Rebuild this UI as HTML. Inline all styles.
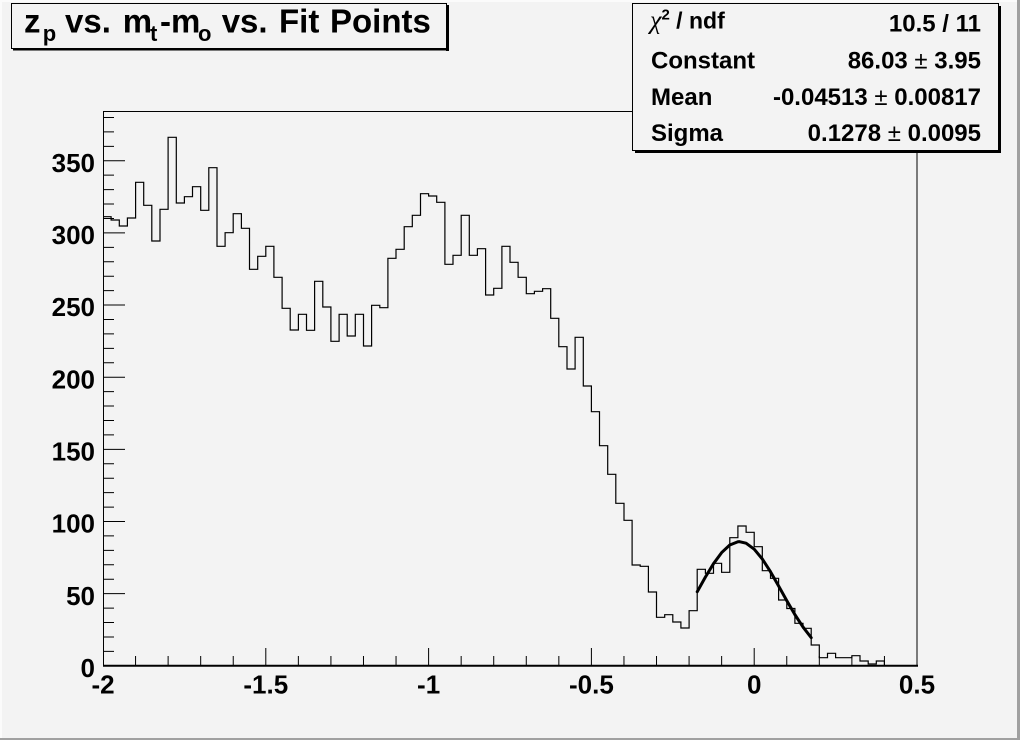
<!DOCTYPE html>
<html><head><meta charset="utf-8">
<style>
html,body{margin:0;padding:0;background:#f3f3f3;}
svg{display:block;}
text{font-family:"Liberation Sans",Arial,sans-serif;font-weight:bold;fill:#000;}
</style></head>
<body>
<svg width="1020" height="740" viewBox="0 0 1020 740" xmlns="http://www.w3.org/2000/svg">
<rect x="0" y="0" width="1020" height="740" fill="#f3f3f3"/>
<!-- canvas bevel -->
<rect x="0" y="0" width="1020" height="2" fill="#fbfbfb"/>
<rect x="0" y="0" width="2" height="740" fill="#fbfbfb"/>
<rect x="1017" y="0" width="3" height="740" fill="#a0a0a0"/>
<rect x="0" y="738" width="1020" height="2" fill="#a0a0a0"/>

<!-- frame -->
<rect x="103.5" y="111.5" width="813.5" height="554" fill="none" stroke="#000" stroke-width="1"/>
<line x1="103" y1="665.8" x2="918" y2="665.8" stroke="#000" stroke-width="2"/>

<!-- y ticks -->
<g stroke="#000" stroke-width="1">
<path d="M103,665.8H125M103,593.65H125M103,521.5H125M103,449.35H125M103,377.2H125M103,305.05H125M103,232.9H125M103,160.75H125"/>
<path d="M103,651.37H114M103,636.94H114M103,622.51H114M103,608.08H114M103,579.22H114M103,564.79H114M103,550.36H114M103,535.93H114M103,507.07H114M103,492.64H114M103,478.21H114M103,463.78H114M103,434.92H114M103,420.49H114M103,406.06H114M103,391.63H114M103,362.77H114M103,348.34H114M103,333.91H114M103,319.48H114M103,290.62H114M103,276.19H114M103,261.76H114M103,247.33H114M103,218.47H114M103,204.04H114M103,189.61H114M103,175.18H114M103,146.32H114M103,131.89H114M103,117.46H114"/>
<!-- x ticks -->
<path d="M103.5,666V648M265.8,666V648M428.6,666V648M591.4,666V648M754.2,666V648M917,666V648"/>
<path d="M135.56,666V656M168.12,666V656M200.68,666V656M233.24,666V656M298.36,666V656M330.92,666V656M363.48,666V656M396.04,666V656M461.16,666V656M493.72,666V656M526.28,666V656M558.84,666V656M623.96,666V656M656.52,666V656M689.08,666V656M721.64,666V656M786.76,666V656M819.32,666V656M851.88,666V656M884.44,666V656"/>
</g>

<!-- y labels -->
<g font-size="26" text-anchor="end">
<text x="95" y="677">0</text>
<text x="95" y="604.8">50</text>
<text x="95" y="532.7">100</text>
<text x="95" y="460.5">150</text>
<text x="95" y="388.4">200</text>
<text x="95" y="316.2">250</text>
<text x="95" y="244.1">300</text>
<text x="95" y="171.9">350</text>
</g>
<!-- x labels -->
<g font-size="26" text-anchor="middle">
<text x="103" y="693.5">-2</text>
<text x="265.8" y="693.5">-1.5</text>
<text x="428.6" y="693.5">-1</text>
<text x="591.4" y="693.5">-0.5</text>
<text x="754.2" y="693.5">0</text>
<text x="917" y="693.5">0.5</text>
</g>

<!-- histogram -->
<path fill="none" stroke="#000" stroke-width="1.2" d="M103,216.7 H111.1 V220 H119.3 V226 H127.4 V218 H135.6 V182.3 H143.7 V205.3 H151.8 V241 H160 V209.3 H168.1 V137.3 H176.3 V203 H184.4 V196.7 H192.5 V186.7 H200.7 V210.3 H208.8 V167.7 H217 V246.3 H225.1 V232.7 H233.2 V213.7 H241.4 V228.3 H249.5 V269.3 H257.7 V256.3 H265.8 V246.3 H273.9 V277.3 H282.1 V308.3 H290.2 V330 H298.4 V314.3 H306.5 V330.3 H314.6 V281.3 H322.8 V307 H330.9 V341.3 H339.1 V314.3 H347.2 V336 H355.3 V314.3 H363.5 V346 H371.6 V305.3 H379.8 V307.7 H387.9 V258.3 H396 V249.3 H404.2 V226.7 H412.3 V215.3 H420.5 V193.7 H428.6 V196 H436.7 V202.3 H444.9 V264.3 H453 V255.3 H461.2 V215.3 H469.3 V255.3 H477.4 V248.7 H485.6 V295 H493.7 V288.3 H501.9 V246.3 H510 V262.3 H518.1 V277.3 H526.3 V293.7 H534.4 V291.3 H542.6 V288.7 H550.7 V318.3 H558.8 V346.7 H567 V369 H575.1 V337.3 H583.3 V386 H591.4 V411.7 H599.5 V445.7 H607.7 V474.3 H615.8 V503.3 H624 V520.3 H632.1 V565 H640.2 V566.3 H648.4 V592 H656.5 V617.3 H664.7 V614.7 H672.8 V622 H680.9 V628 H689.1 V610.7 H697.2 V569.3 H705.4 V573.3 H713.5 V563.3 H721.6 V572.3 H729.8 V537.7 H737.9 V526 H746.1 V532.3 H754.2 V546.7 H762.3 V570.7 H770.5 V578.3 H778.6 V600 H786.8 V608.5 H794.9 V623.3 H803 V628.3 H811.2 V645 H819.3 V657.7 H827.5 V653.3 H835.6 V657.7 H843.7 V657.7 H851.9 V655.7 H860 V661 H868.2 V664 H876.3 V661 H884.4 V666"/>

<!-- gaussian fit -->
<polyline fill="none" stroke="#000" stroke-width="3" stroke-linejoin="round" stroke-linecap="round" points="697.22,591.73 705.36,577.15 713.5,563.68 721.64,552.59 729.78,545.0 737.92,541.75 739.51,541.66 746.06,543.19 754.2,549.16 762.34,559.01 770.48,571.70 778.62,585.99 786.76,600.65 794.9,614.62 803.04,627.10 811.18,637.64"/>

<!-- title box -->
<rect x="11.5" y="3.5" width="435" height="45" fill="#f3f3f3" stroke="#000" stroke-width="1"/>
<rect x="446" y="5" width="3" height="46" fill="#000"/>
<rect x="13" y="48" width="436" height="2.5" fill="#000"/>
<g font-size="33">
<text x="24" y="32.5">z</text>
<text x="42.7" y="41" font-size="22">p</text>
<text x="65" y="32.5">vs.</text>
<text x="122.7" y="32.5">m</text>
<text x="150" y="41" font-size="22">t</text>
<text x="160" y="32.5">-m</text>
<text x="198" y="41" font-size="22">o</text>
<text x="221.7" y="32.5">vs.</text>
<text x="279" y="32.5">Fit</text>
<text x="330" y="32.5">Points</text>
</g>

<!-- stats box -->
<rect x="632.5" y="3.5" width="366" height="147" fill="#f3f3f3" stroke="#000" stroke-width="1"/>
<rect x="998.5" y="6" width="2.5" height="147" fill="#000"/>
<rect x="635" y="150.5" width="366" height="2.5" fill="#000"/>
<g font-size="24">
<text x="650" y="28.5" font-size="23"><tspan font-family="'Liberation Serif',serif" font-weight="normal" font-style="italic" font-size="26">χ</tspan><tspan font-size="15" dy="-9">2</tspan><tspan dy="9"> / ndf</tspan></text>
<text x="651" y="68.3">Constant</text>
<text x="651" y="105">Mean</text>
<text x="651" y="141">Sigma</text>
<text x="981" y="31.5" text-anchor="end">10.5 / 11</text>
<text x="981" y="68.3" text-anchor="end">86.03<tspan font-weight="normal"> ± </tspan>3.95</text>
<text x="981" y="105" text-anchor="end">-0.04513<tspan font-weight="normal"> ± </tspan>0.00817</text>
<text x="981" y="141" text-anchor="end">0.1278<tspan font-weight="normal"> ± </tspan>0.0095</text>
</g>
</svg>
</body></html>
